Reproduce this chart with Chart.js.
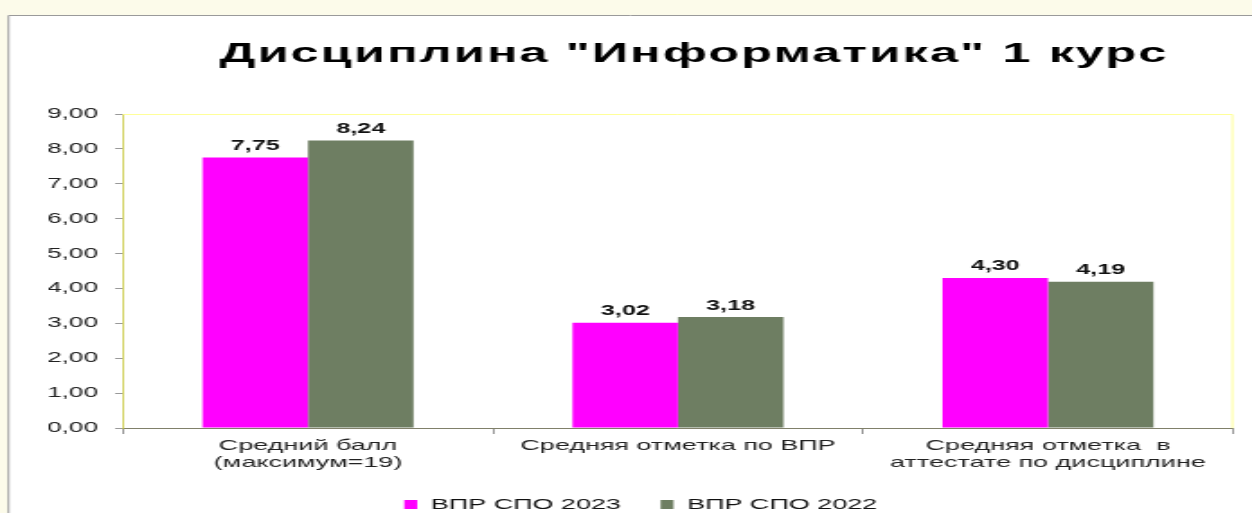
<!DOCTYPE html>
<html>
<head>
<meta charset="utf-8">
<script src="https://cdn.jsdelivr.net/npm/chart.js@4.4.1/dist/chart.umd.min.js"></script>
<style>
  body { margin: 0; background: #fcfbea; overflow: hidden; }
</style>
</head>
<body>
<canvas id="chart" width="696" height="513" style="display:block;width:1252px;height:513px"></canvas>
<script>
var categories = [
    ['Средний балл', '(максимум=19)'],
    'Средняя отметка по ВПР',
    ['Средняя отметка  в', 'аттестате по дисциплине']
];
var series2023 = [7.75, 3.02, 4.30];
var series2022 = [8.24, 3.18, 4.19];
var seriesNames = ['ВПР СПО 2023', 'ВПР СПО 2022'];
var yMin = 0, yMax = 9, yStep = 1;
var chartTitle = 'Дисциплина "Информатика" 1 курс';

// the picture is stretched sideways, so the canvas is drawn narrow and widened by css
var SX = 1252 / 696;

function fmt(v) {
    return v.toFixed(2).replace('.', ',');
}

var backdrop = {
    id: 'backdrop',
    beforeDraw: function (chart) {
        var c = chart.ctx;
        c.save();
        c.fillStyle = '#fcfbea';
        c.fillRect(0, 0, chart.width, chart.height);
        c.fillStyle = '#ffffff';
        c.fillRect(8 / SX, 15, chart.width, chart.height);
        c.strokeStyle = '#9a9a9a';
        c.lineWidth = 1;
        c.beginPath();
        c.moveTo(8.5 / SX, chart.height);
        c.lineTo(8.5 / SX, 15.5);
        c.lineTo(chart.width, 15.5);
        c.stroke();
        c.restore();
    },
    beforeDatasetsDraw: function (chart) {
        var a = chart.chartArea, c = chart.ctx;
        c.save();
        c.strokeStyle = '#ffff99';
        c.lineWidth = 1;
        c.beginPath();
        c.moveTo(a.left, a.top + 0.5);
        c.lineTo(a.right - 0.3, a.top + 0.5);
        c.lineTo(a.right - 0.3, a.bottom);
        c.stroke();
        c.restore();
    },
    afterDraw: function (chart) {
        var c = chart.ctx;
        c.save();
        c.fillStyle = '#000';
        c.font = 'bold 28px "Liberation Sans", Arial, sans-serif';
        c.letterSpacing = '1.2px';
        c.textAlign = 'center';
        c.textBaseline = 'alphabetic';
        c.fillText(chartTitle, 694 / SX, 62);
        c.restore();
    }
};

var barLabels = {
    id: 'barLabels',
    afterDatasetsDraw: function (chart) {
        var c = chart.ctx;
        c.save();
        c.fillStyle = '#111';
        c.font = 'bold 14px "Liberation Sans", Arial, sans-serif';
        c.textAlign = 'center';
        c.textBaseline = 'alphabetic';
        chart.data.datasets.forEach(function (ds, i) {
            chart.getDatasetMeta(i).data.forEach(function (bar, j) {
                c.fillText(fmt(ds.data[j]), bar.x, bar.y - 7.5);
            });
        });
        c.restore();
    }
};

window.onload = function () {
    var ctx = document.getElementById('chart').getContext('2d');
    var myChart = new Chart(ctx, {
        type: 'bar',
        data: {
            labels: categories,
            datasets: [{
                label: seriesNames[0],
                data: series2023,
                backgroundColor: '#ff00ff',
                borderWidth: 0
            }, {
                label: seriesNames[1],
                data: series2022,
                backgroundColor: '#6e7e62',
                borderWidth: 0
            }]
        },
        options: {
            responsive: false,
            animation: false,
            devicePixelRatio: 1,
            layout: {
                padding: { top: 114, left: 27, right: 10.6, bottom: -9 }
            },
            datasets: {
                bar: { categoryPercentage: 0.57, barPercentage: 1 }
            },
            scales: {
                x: {
                    grid: { drawOnChartArea: false, drawTicks: true, tickLength: 6, color: '#666', lineWidth: 0.7 },
                    border: { color: '#80806a', width: 1 },
                    ticks: {
                        color: '#222',
                        padding: 4,
                        maxRotation: 0,
                        font: { family: '"Liberation Sans", Arial, sans-serif', size: 15, lineHeight: 1.1 }
                    },
                    afterFit: function (scale) { scale.height = 47; }
                },
                y: {
                    min: yMin,
                    max: yMax,
                    grid: { drawOnChartArea: false, drawTicks: true, tickLength: 4.4, color: '#999' },
                    border: { color: '#c8c83c', width: 0.8 },
                    ticks: {
                        stepSize: yStep,
                        color: '#222',
                        padding: 9.5,
                        font: { family: '"Liberation Sans", Arial, sans-serif', size: 14.5 },
                        callback: function (v) { return fmt(v); }
                    },
                    afterFit: function (scale) { scale.width = 41.4; }
                }
            },
            plugins: {
                title: { display: false },
                tooltip: { enabled: false },
                legend: {
                    display: true,
                    position: 'bottom',
                    labels: {
                        boxWidth: 7.2,
                        boxHeight: 9,
                        padding: 22,
                        color: '#111',
                        font: { family: '"Liberation Sans", Arial, sans-serif', size: 15 }
                    }
                }
            }
        },
        plugins: [backdrop, barLabels]
    });
};
</script>
</body>
</html>
